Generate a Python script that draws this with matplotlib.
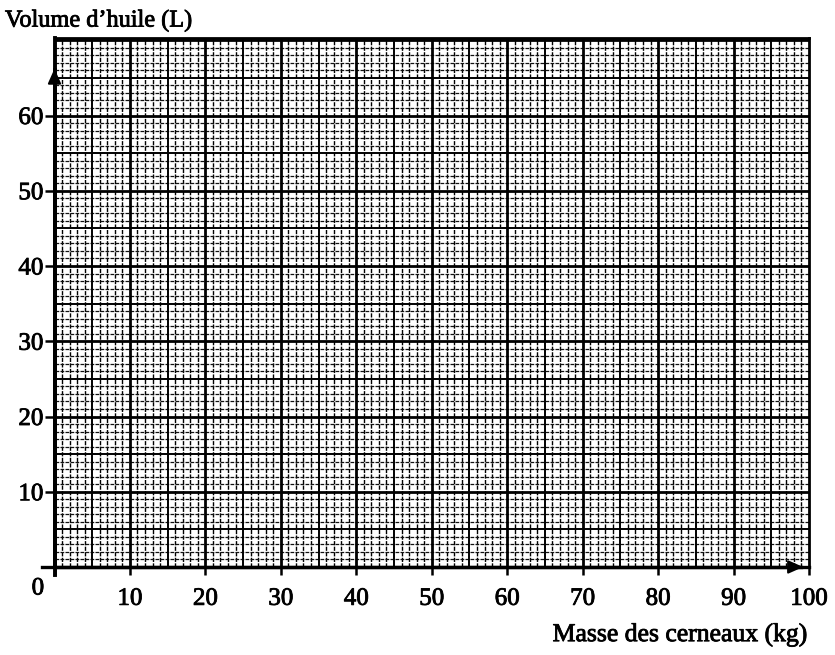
import matplotlib
matplotlib.use("Agg")
import matplotlib.pyplot as plt
import matplotlib.patheffects as pe
import numpy as np

# axis values
x_ticks = [10, 20, 30, 40, 50, 60, 70, 80, 90, 100]
y_ticks = [10, 20, 30, 40, 50, 60]
x_label = "Masse des cerneaux (kg)"
y_label = "Volume d\u2019huile (L)"
x_max = 100
y_max = 70.3

W, H = 835, 655
plt.rcParams["font.family"] = ["Liberation Serif", "DejaVu Serif"]
FS = 18
# scanned print looks a bit heavy: thicken glyphs slightly
ink = [pe.withStroke(linewidth=0.6, foreground="black")]

fig = plt.figure(figsize=(W / 100, H / 100), dpi=100)
x0, x1 = 54.5, 809
y0, y1 = 567, 38
ax = fig.add_axes([x0 / W, 1 - y0 / H, (x1 - x0) / W, (y0 - y1) / H])
ax.set_xlim(0, x_max)
ax.set_ylim(0, y_max)

# millimetre paper: 1, 5 and 10 unit lines
for v in np.arange(1, x_max):
    if v % 10 == 0:
        ax.axvline(v, color="black", lw=2.0, zorder=3)
    elif v % 5 == 0:
        ax.axvline(v, color="black", lw=1.4, zorder=2)
    else:
        ax.axvline(v, color="black", lw=1.0, ls=(0, (3, 1)), zorder=1)
for v in np.arange(1, int(y_max) + 1):
    if v % 10 == 0:
        ax.axhline(v, color="black", lw=2.0, zorder=3)
    elif v % 5 == 0:
        ax.axhline(v, color="black", lw=1.4, zorder=2)
    else:
        ax.axhline(v, color="#111111", lw=0.9, ls=(0, (3, 1)), zorder=1)

for s in ax.spines.values():
    s.set_color("black")
    s.set_linewidth(2.0)
ax.spines["left"].set_linewidth(2.8)
ax.spines["bottom"].set_linewidth(2.4)

# axis lines sticking out of the paper, with arrows
ax.plot([-1.6, 99], [0, 0], color="black", lw=2.4, clip_on=False, zorder=5)
ax.plot([0, 0], [-1.1, 66], color="black", lw=2.8, clip_on=False, zorder=5)
ax.annotate("", xy=(99.6, 0), xytext=(97.5, 0),
            arrowprops=dict(arrowstyle="-|>,head_length=0.9,head_width=0.4",
                            color="black", lw=1.5), annotation_clip=False, zorder=6)
ax.annotate("", xy=(0, 66.6), xytext=(0, 64),
            arrowprops=dict(arrowstyle="-|>,head_length=0.9,head_width=0.4",
                            color="black", lw=1.5), annotation_clip=False, zorder=6)

ax.set_xticks([0] + x_ticks)
ax.set_xticklabels([""] + [str(t) for t in x_ticks], fontsize=FS, path_effects=ink)
ax.set_yticks(y_ticks)
ax.set_yticklabels([str(t) for t in y_ticks], fontsize=FS, path_effects=ink)
ax.tick_params(axis="x", direction="out", length=6, width=1.8, pad=9)
ax.tick_params(axis="y", direction="out", length=7, width=1.8, pad=1)
ax.text(-2.2, -1.4, "0", fontsize=FS, ha="center", va="top", path_effects=ink)

fig.text(5 / W, 1 - 21 / H, y_label, fontsize=FS - 0.5, ha="left", va="center",
         path_effects=ink)
fig.text(808 / W, 1 - 635 / H, x_label, fontsize=FS + 0.5, ha="right", va="center",
         path_effects=ink)

fig.savefig("out.png", dpi=100)
